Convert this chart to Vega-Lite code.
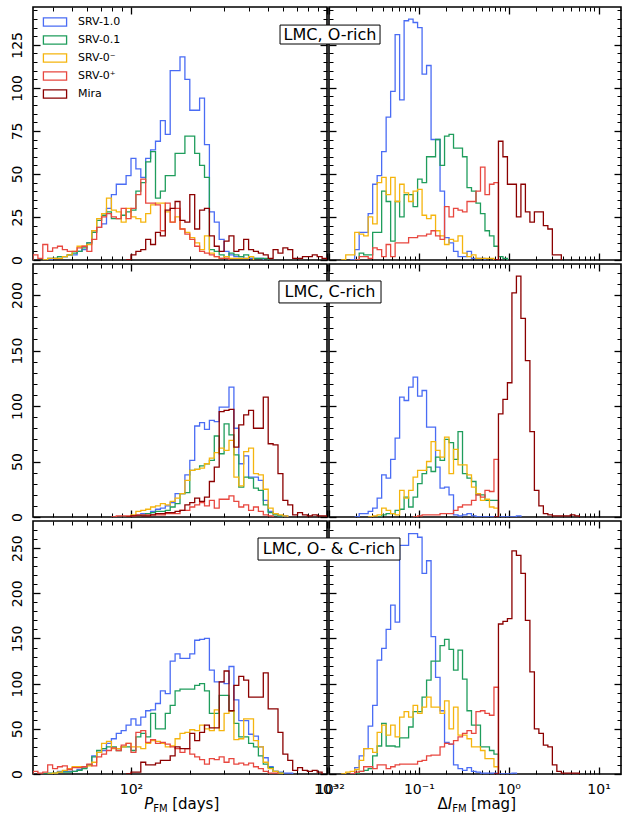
{
"$schema":"https://vega.github.io/schema/vega-lite/v6.json",
"padding":{"left":9,"top":5,"right":0,"bottom":0},
"background":"white",
"config":{
"font":"DejaVu Sans",
"view":{"stroke":"black","strokeWidth":1.6},
"axis":{"grid":false,"domain":false,"tickColor":"black","labelColor":"black","labelFont":"DejaVu Sans","labelFontSize":14,"labelFlush":false,"labelOverlap":false},
"legend":{"orient":"top-left","offset":7,"padding":0,"labelFont":"DejaVu Sans","labelFontSize":11,"labelColor":"black","symbolType":"M-1.6,-0.57H1.6V0.57H-1.6Z","symbolSize":210,"symbolStrokeWidth":1.4,"symbolFillColor":"transparent","symbolOffset":7,"labelOffset":15,"rowPadding":3,"labelLimit":200},
"line":{"strokeWidth":1.3}
},
"resolve":{"legend":{"color":"independent"}},
"columns":2,
"spacing":{"row":4,"column":2},
"bounds":"flush",
"concat":[
{"width":294,"height":253,"resolve":{"axis":{"x":"independent","y":"independent"}},"layer":[
{"data":{"name":"tl1"},"mark":{"type":"line","interpolate":"step-after","clip":true},"encoding":{
"x":{"field":"lg","type":"quantitative","scale":{"domain":[1.5,3],"nice":false,"zero":false},"axis":{"orient":"bottom","values":[2,3],"labels":false,"tickSize":-7,"tickWidth":1.3,"title":null}},
"y":{"field":"n","type":"quantitative","scale":{"domain":[0,147],"nice":false},"axis":{"orient":"left","values":[0,25,50,75,100,125],"labelAngle":-90,"labelAlign":"center","labelBaseline":"bottom","tickSize":-7,"tickWidth":1.3,"labelPadding":15.5,"title":null}},
"color":{"datum":"SRV-1.0","scale":{"domain":["SRV-1.0","SRV-0.1","SRV-0⁻","SRV-0⁺","Mira"],"range":["#4a6cf4","#1f9d5c","#f5b50e","#e8473f","#8b0000"]},"legend":{"title":null,"orient":"top-left","offset":7,"padding":0,"symbolType":"M-1.6,-0.57H1.6V0.57H-1.6Z","symbolSize":210,"symbolStrokeWidth":1.4,"symbolFillColor":"transparent","symbolOffset":7,"labelFontSize":11,"labelOffset":15,"rowPadding":3}}}},
{"data":{"name":"tl2"},"mark":{"type":"line","interpolate":"step-after","clip":true},"encoding":{
"x":{"field":"lg","type":"quantitative","scale":{"domain":[1.5,3],"nice":false,"zero":false},"axis":{"orient":"bottom","values":[1.602,1.699,1.778,1.845,1.903,1.954,2.301,2.477,2.602,2.699,2.778,2.845,2.903,2.954],"labels":false,"tickSize":-4,"tickWidth":1,"title":null}},
"y":{"field":"n","type":"quantitative","scale":{"domain":[0,147],"nice":false},"axis":{"orient":"left","values":[5,10,15,20,30,35,40,45,55,60,65,70,80,85,90,95,105,110,115,120,130,135,140,145],"labels":false,"tickSize":-4,"tickWidth":1,"title":null}},
"color":{"datum":"SRV-0.1","legend":{"title":null}}}},
{"data":{"name":"tl3"},"mark":{"type":"line","interpolate":"step-after","clip":true},"encoding":{
"x":{"field":"lg","type":"quantitative","scale":{"domain":[1.5,3],"nice":false,"zero":false},"axis":{"orient":"top","values":[2,3],"labels":false,"tickSize":-7,"tickWidth":1.3,"title":null}},
"y":{"field":"n","type":"quantitative","scale":{"domain":[0,147],"nice":false},"axis":{"orient":"right","values":[0,25,50,75,100,125],"labels":false,"tickSize":-7,"tickWidth":1.3,"title":null}},
"color":{"datum":"SRV-0⁻","legend":{"title":null}}}},
{"data":{"name":"tl4"},"mark":{"type":"line","interpolate":"step-after","clip":true},"encoding":{
"x":{"field":"lg","type":"quantitative","scale":{"domain":[1.5,3],"nice":false,"zero":false},"axis":{"orient":"top","values":[1.602,1.699,1.778,1.845,1.903,1.954,2.301,2.477,2.602,2.699,2.778,2.845,2.903,2.954],"labels":false,"tickSize":-4,"tickWidth":1,"title":null}},
"y":{"field":"n","type":"quantitative","scale":{"domain":[0,147],"nice":false},"axis":{"orient":"right","values":[5,10,15,20,30,35,40,45,55,60,65,70,80,85,90,95,105,110,115,120,130,135,140,145],"labels":false,"tickSize":-4,"tickWidth":1,"title":null}},
"color":{"datum":"SRV-0⁺","legend":{"title":null}}}},
{"data":{"name":"tl5"},"mark":{"type":"line","interpolate":"step-after","clip":true},"encoding":{
"x":{"field":"lg","type":"quantitative","scale":{"domain":[1.5,3],"nice":false,"zero":false},"axis":null},
"y":{"field":"n","type":"quantitative","scale":{"domain":[0,147],"nice":false},"axis":null},
"color":{"datum":"Mira","legend":{"title":null}}}}
]},
{"width":292,"height":253,"resolve":{"axis":{"x":"independent","y":"independent"}},"layer":[
{"data":{"name":"tr1"},"mark":{"type":"line","interpolate":"step-after","clip":true},"encoding":{
"x":{"field":"lg","type":"quantitative","scale":{"domain":[-2,1.25],"nice":false,"zero":false},"axis":{"orient":"bottom","values":[-2,-1,0,1],"labels":false,"tickSize":-7,"tickWidth":1.3,"title":null}},
"y":{"field":"n","type":"quantitative","scale":{"domain":[0,147],"nice":false},"axis":{"orient":"left","values":[0,25,50,75,100,125],"labels":false,"tickSize":-7,"tickWidth":1.3,"title":null}},
"color":{"datum":"SRV-1.0","legend":null}}},
{"data":{"name":"tr2"},"mark":{"type":"line","interpolate":"step-after","clip":true},"encoding":{
"x":{"field":"lg","type":"quantitative","scale":{"domain":[-2,1.25],"nice":false,"zero":false},"axis":{"orient":"bottom","values":[-1.699,-1.523,-1.398,-1.301,-1.222,-1.155,-1.097,-1.046,-0.699,-0.523,-0.398,-0.301,-0.222,-0.155,-0.097,-0.046,0.301,0.477,0.602,0.699,0.778,0.845,0.903,0.954],"labels":false,"tickSize":-4,"tickWidth":1,"title":null}},
"y":{"field":"n","type":"quantitative","scale":{"domain":[0,147],"nice":false},"axis":{"orient":"left","values":[5,10,15,20,30,35,40,45,55,60,65,70,80,85,90,95,105,110,115,120,130,135,140,145],"labels":false,"tickSize":-4,"tickWidth":1,"title":null}},
"color":{"datum":"SRV-0.1","legend":null}}},
{"data":{"name":"tr3"},"mark":{"type":"line","interpolate":"step-after","clip":true},"encoding":{
"x":{"field":"lg","type":"quantitative","scale":{"domain":[-2,1.25],"nice":false,"zero":false},"axis":{"orient":"top","values":[-2,-1,0,1],"labels":false,"tickSize":-7,"tickWidth":1.3,"title":null}},
"y":{"field":"n","type":"quantitative","scale":{"domain":[0,147],"nice":false},"axis":{"orient":"right","values":[0,25,50,75,100,125],"labels":false,"tickSize":-7,"tickWidth":1.3,"title":null}},
"color":{"datum":"SRV-0⁻","legend":null}}},
{"data":{"name":"tr4"},"mark":{"type":"line","interpolate":"step-after","clip":true},"encoding":{
"x":{"field":"lg","type":"quantitative","scale":{"domain":[-2,1.25],"nice":false,"zero":false},"axis":{"orient":"top","values":[-1.699,-1.523,-1.398,-1.301,-1.222,-1.155,-1.097,-1.046,-0.699,-0.523,-0.398,-0.301,-0.222,-0.155,-0.097,-0.046,0.301,0.477,0.602,0.699,0.778,0.845,0.903,0.954],"labels":false,"tickSize":-4,"tickWidth":1,"title":null}},
"y":{"field":"n","type":"quantitative","scale":{"domain":[0,147],"nice":false},"axis":{"orient":"right","values":[5,10,15,20,30,35,40,45,55,60,65,70,80,85,90,95,105,110,115,120,130,135,140,145],"labels":false,"tickSize":-4,"tickWidth":1,"title":null}},
"color":{"datum":"SRV-0⁺","legend":null}}},
{"data":{"name":"tr5"},"mark":{"type":"line","interpolate":"step-after","clip":true},"encoding":{
"x":{"field":"lg","type":"quantitative","scale":{"domain":[-2,1.25],"nice":false,"zero":false},"axis":null},
"y":{"field":"n","type":"quantitative","scale":{"domain":[0,147],"nice":false},"axis":null},
"color":{"datum":"Mira","legend":null}}},
{"data":{"values":[{}]},"mark":{"type":"rect","fill":"white","stroke":"black","strokeWidth":1},"encoding":{
"x":{"datum":-2.545,"type":"quantitative","axis":null},"x2":{"datum":-1.432},
"y":{"datum":136.5,"type":"quantitative","axis":null},"y2":{"datum":125.5}}},
{"data":{"values":[{}]},"mark":{"type":"text","text":"LMC, O-rich","fontSize":16,"align":"center","baseline":"middle","color":"black"},"encoding":{
"x":{"datum":-1.989,"type":"quantitative","axis":null},
"y":{"datum":131,"type":"quantitative","axis":null}}}
]},
{"width":294,"height":253,"resolve":{"axis":{"x":"independent","y":"independent"}},"layer":[
{"data":{"name":"ml1"},"mark":{"type":"line","interpolate":"step-after","clip":true},"encoding":{
"x":{"field":"lg","type":"quantitative","scale":{"domain":[1.5,3],"nice":false,"zero":false},"axis":{"orient":"bottom","values":[2,3],"labels":false,"tickSize":-7,"tickWidth":1.3,"title":null}},
"y":{"field":"n","type":"quantitative","scale":{"domain":[0,228],"nice":false},"axis":{"orient":"left","values":[0,50,100,150,200],"labelAngle":-90,"labelAlign":"center","labelBaseline":"bottom","tickSize":-7,"tickWidth":1.3,"labelPadding":15.5,"title":null}},
"color":{"datum":"SRV-1.0","legend":null}}},
{"data":{"name":"ml2"},"mark":{"type":"line","interpolate":"step-after","clip":true},"encoding":{
"x":{"field":"lg","type":"quantitative","scale":{"domain":[1.5,3],"nice":false,"zero":false},"axis":{"orient":"bottom","values":[1.602,1.699,1.778,1.845,1.903,1.954,2.301,2.477,2.602,2.699,2.778,2.845,2.903,2.954],"labels":false,"tickSize":-4,"tickWidth":1,"title":null}},
"y":{"field":"n","type":"quantitative","scale":{"domain":[0,228],"nice":false},"axis":{"orient":"left","values":[10,20,30,40,60,70,80,90,110,120,130,140,160,170,180,190,210,220],"labels":false,"tickSize":-4,"tickWidth":1,"title":null}},
"color":{"datum":"SRV-0.1","legend":null}}},
{"data":{"name":"ml3"},"mark":{"type":"line","interpolate":"step-after","clip":true},"encoding":{
"x":{"field":"lg","type":"quantitative","scale":{"domain":[1.5,3],"nice":false,"zero":false},"axis":{"orient":"top","values":[2,3],"labels":false,"tickSize":-7,"tickWidth":1.3,"title":null}},
"y":{"field":"n","type":"quantitative","scale":{"domain":[0,228],"nice":false},"axis":{"orient":"right","values":[0,50,100,150,200],"labels":false,"tickSize":-7,"tickWidth":1.3,"title":null}},
"color":{"datum":"SRV-0⁻","legend":null}}},
{"data":{"name":"ml4"},"mark":{"type":"line","interpolate":"step-after","clip":true},"encoding":{
"x":{"field":"lg","type":"quantitative","scale":{"domain":[1.5,3],"nice":false,"zero":false},"axis":{"orient":"top","values":[1.602,1.699,1.778,1.845,1.903,1.954,2.301,2.477,2.602,2.699,2.778,2.845,2.903,2.954],"labels":false,"tickSize":-4,"tickWidth":1,"title":null}},
"y":{"field":"n","type":"quantitative","scale":{"domain":[0,228],"nice":false},"axis":{"orient":"right","values":[10,20,30,40,60,70,80,90,110,120,130,140,160,170,180,190,210,220],"labels":false,"tickSize":-4,"tickWidth":1,"title":null}},
"color":{"datum":"SRV-0⁺","legend":null}}},
{"data":{"name":"ml5"},"mark":{"type":"line","interpolate":"step-after","clip":true},"encoding":{
"x":{"field":"lg","type":"quantitative","scale":{"domain":[1.5,3],"nice":false,"zero":false},"axis":null},
"y":{"field":"n","type":"quantitative","scale":{"domain":[0,228],"nice":false},"axis":null},
"color":{"datum":"Mira","legend":null}}}
]},
{"width":292,"height":253,"resolve":{"axis":{"x":"independent","y":"independent"}},"layer":[
{"data":{"name":"mr1"},"mark":{"type":"line","interpolate":"step-after","clip":true},"encoding":{
"x":{"field":"lg","type":"quantitative","scale":{"domain":[-2,1.25],"nice":false,"zero":false},"axis":{"orient":"bottom","values":[-2,-1,0,1],"labels":false,"tickSize":-7,"tickWidth":1.3,"title":null}},
"y":{"field":"n","type":"quantitative","scale":{"domain":[0,228],"nice":false},"axis":{"orient":"left","values":[0,50,100,150,200],"labels":false,"tickSize":-7,"tickWidth":1.3,"title":null}},
"color":{"datum":"SRV-1.0","legend":null}}},
{"data":{"name":"mr2"},"mark":{"type":"line","interpolate":"step-after","clip":true},"encoding":{
"x":{"field":"lg","type":"quantitative","scale":{"domain":[-2,1.25],"nice":false,"zero":false},"axis":{"orient":"bottom","values":[-1.699,-1.523,-1.398,-1.301,-1.222,-1.155,-1.097,-1.046,-0.699,-0.523,-0.398,-0.301,-0.222,-0.155,-0.097,-0.046,0.301,0.477,0.602,0.699,0.778,0.845,0.903,0.954],"labels":false,"tickSize":-4,"tickWidth":1,"title":null}},
"y":{"field":"n","type":"quantitative","scale":{"domain":[0,228],"nice":false},"axis":{"orient":"left","values":[10,20,30,40,60,70,80,90,110,120,130,140,160,170,180,190,210,220],"labels":false,"tickSize":-4,"tickWidth":1,"title":null}},
"color":{"datum":"SRV-0.1","legend":null}}},
{"data":{"name":"mr3"},"mark":{"type":"line","interpolate":"step-after","clip":true},"encoding":{
"x":{"field":"lg","type":"quantitative","scale":{"domain":[-2,1.25],"nice":false,"zero":false},"axis":{"orient":"top","values":[-2,-1,0,1],"labels":false,"tickSize":-7,"tickWidth":1.3,"title":null}},
"y":{"field":"n","type":"quantitative","scale":{"domain":[0,228],"nice":false},"axis":{"orient":"right","values":[0,50,100,150,200],"labels":false,"tickSize":-7,"tickWidth":1.3,"title":null}},
"color":{"datum":"SRV-0⁻","legend":null}}},
{"data":{"name":"mr4"},"mark":{"type":"line","interpolate":"step-after","clip":true},"encoding":{
"x":{"field":"lg","type":"quantitative","scale":{"domain":[-2,1.25],"nice":false,"zero":false},"axis":{"orient":"top","values":[-1.699,-1.523,-1.398,-1.301,-1.222,-1.155,-1.097,-1.046,-0.699,-0.523,-0.398,-0.301,-0.222,-0.155,-0.097,-0.046,0.301,0.477,0.602,0.699,0.778,0.845,0.903,0.954],"labels":false,"tickSize":-4,"tickWidth":1,"title":null}},
"y":{"field":"n","type":"quantitative","scale":{"domain":[0,228],"nice":false},"axis":{"orient":"right","values":[10,20,30,40,60,70,80,90,110,120,130,140,160,170,180,190,210,220],"labels":false,"tickSize":-4,"tickWidth":1,"title":null}},
"color":{"datum":"SRV-0⁺","legend":null}}},
{"data":{"name":"mr5"},"mark":{"type":"line","interpolate":"step-after","clip":true},"encoding":{
"x":{"field":"lg","type":"quantitative","scale":{"domain":[-2,1.25],"nice":false,"zero":false},"axis":null},
"y":{"field":"n","type":"quantitative","scale":{"domain":[0,228],"nice":false},"axis":null},
"color":{"datum":"Mira","legend":null}}},
{"data":{"values":[{}]},"mark":{"type":"rect","fill":"white","stroke":"black","strokeWidth":1},"encoding":{
"x":{"datum":-2.557,"type":"quantitative","axis":null},"x2":{"datum":-1.421},
"y":{"datum":212.7,"type":"quantitative","axis":null},"y2":{"datum":192.9}}},
{"data":{"values":[{}]},"mark":{"type":"text","text":"LMC, C-rich","fontSize":16,"align":"center","baseline":"middle","color":"black"},"encoding":{
"x":{"datum":-1.989,"type":"quantitative","axis":null},
"y":{"datum":202.8,"type":"quantitative","axis":null}}}
]},
{"width":294,"height":253,"resolve":{"axis":{"x":"independent","y":"independent"}},"layer":[
{"data":{"name":"bl1"},"mark":{"type":"line","interpolate":"step-after","clip":true},"encoding":{
"x":{"field":"lg","type":"quantitative","scale":{"domain":[1.5,3],"nice":false,"zero":false},"axis":{"orient":"bottom","values":[2,3],"labelExpr":"datum.value==2?'10²':'10³'","tickSize":-7,"tickWidth":1.3,"labelPadding":15,"title":null}},
"y":{"field":"n","type":"quantitative","scale":{"domain":[0,280],"nice":false},"axis":{"orient":"left","values":[0,50,100,150,200,250],"labelAngle":-90,"labelAlign":"center","labelBaseline":"bottom","tickSize":-7,"tickWidth":1.3,"labelPadding":15.5,"title":null}},
"color":{"datum":"SRV-1.0","legend":null}}},
{"data":{"name":"bl2"},"mark":{"type":"line","interpolate":"step-after","clip":true},"encoding":{
"x":{"field":"lg","type":"quantitative","scale":{"domain":[1.5,3],"nice":false,"zero":false},"axis":{"orient":"bottom","values":[1.602,1.699,1.778,1.845,1.903,1.954,2.301,2.477,2.602,2.699,2.778,2.845,2.903,2.954],"labels":false,"tickSize":-4,"tickWidth":1,"title":null}},
"y":{"field":"n","type":"quantitative","scale":{"domain":[0,280],"nice":false},"axis":{"orient":"left","values":[10,20,30,40,60,70,80,90,110,120,130,140,160,170,180,190,210,220,230,240,260,270],"labels":false,"tickSize":-4,"tickWidth":1,"title":null}},
"color":{"datum":"SRV-0.1","legend":null}}},
{"data":{"name":"bl3"},"mark":{"type":"line","interpolate":"step-after","clip":true},"encoding":{
"x":{"field":"lg","type":"quantitative","scale":{"domain":[1.5,3],"nice":false,"zero":false},"axis":{"orient":"top","values":[2,3],"labels":false,"tickSize":-7,"tickWidth":1.3,"title":null}},
"y":{"field":"n","type":"quantitative","scale":{"domain":[0,280],"nice":false},"axis":{"orient":"right","values":[0,50,100,150,200,250],"labels":false,"tickSize":-7,"tickWidth":1.3,"title":null}},
"color":{"datum":"SRV-0⁻","legend":null}}},
{"data":{"name":"bl4"},"mark":{"type":"line","interpolate":"step-after","clip":true},"encoding":{
"x":{"field":"lg","type":"quantitative","scale":{"domain":[1.5,3],"nice":false,"zero":false},"axis":{"orient":"top","values":[1.602,1.699,1.778,1.845,1.903,1.954,2.301,2.477,2.602,2.699,2.778,2.845,2.903,2.954],"labels":false,"tickSize":-4,"tickWidth":1,"title":null}},
"y":{"field":"n","type":"quantitative","scale":{"domain":[0,280],"nice":false},"axis":{"orient":"right","values":[10,20,30,40,60,70,80,90,110,120,130,140,160,170,180,190,210,220,230,240,260,270],"labels":false,"tickSize":-4,"tickWidth":1,"title":null}},
"color":{"datum":"SRV-0⁺","legend":null}}},
{"data":{"name":"bl5"},"mark":{"type":"line","interpolate":"step-after","clip":true},"encoding":{
"x":{"field":"lg","type":"quantitative","scale":{"domain":[1.5,3],"nice":false,"zero":false},"axis":null},
"y":{"field":"n","type":"quantitative","scale":{"domain":[0,280],"nice":false},"axis":null},
"color":{"datum":"Mira","legend":null}}},
{"data":{"values":[{}]},"mark":{"type":"text","text":"P","fontSize":15,"fontStyle":"italic","align":"left","baseline":"alphabetic","color":"black"},"encoding":{
"x":{"datum":2.0676,"type":"quantitative","axis":null},"y":{"datum":-39,"type":"quantitative","axis":null}}},
{"data":{"values":[{}]},"mark":{"type":"text","text":"FM","fontSize":10,"align":"left","baseline":"alphabetic","color":"black"},"encoding":{
"x":{"datum":2.1135,"type":"quantitative","axis":null},"y":{"datum":-41.7,"type":"quantitative","axis":null}}},
{"data":{"values":[{}]},"mark":{"type":"text","text":"[days]","fontSize":15,"align":"left","baseline":"alphabetic","color":"black"},"encoding":{
"x":{"datum":2.21,"type":"quantitative","axis":null},"y":{"datum":-39,"type":"quantitative","axis":null}}}
]},
{"width":292,"height":253,"resolve":{"axis":{"x":"independent","y":"independent"}},"layer":[
{"data":{"name":"br1"},"mark":{"type":"line","interpolate":"step-after","clip":true},"encoding":{
"x":{"field":"lg","type":"quantitative","scale":{"domain":[-2,1.25],"nice":false,"zero":false},"axis":{"orient":"bottom","values":[-2,-1,0,1],"labelExpr":"datum.value==-2?'10⁻²':datum.value==-1?'10⁻¹':datum.value==0?'10⁰':'10¹'","tickSize":-7,"tickWidth":1.3,"labelPadding":15,"title":null}},
"y":{"field":"n","type":"quantitative","scale":{"domain":[0,280],"nice":false},"axis":{"orient":"left","values":[0,50,100,150,200,250],"labels":false,"tickSize":-7,"tickWidth":1.3,"title":null}},
"color":{"datum":"SRV-1.0","legend":null}}},
{"data":{"name":"br2"},"mark":{"type":"line","interpolate":"step-after","clip":true},"encoding":{
"x":{"field":"lg","type":"quantitative","scale":{"domain":[-2,1.25],"nice":false,"zero":false},"axis":{"orient":"bottom","values":[-1.699,-1.523,-1.398,-1.301,-1.222,-1.155,-1.097,-1.046,-0.699,-0.523,-0.398,-0.301,-0.222,-0.155,-0.097,-0.046,0.301,0.477,0.602,0.699,0.778,0.845,0.903,0.954],"labels":false,"tickSize":-4,"tickWidth":1,"title":null}},
"y":{"field":"n","type":"quantitative","scale":{"domain":[0,280],"nice":false},"axis":{"orient":"left","values":[10,20,30,40,60,70,80,90,110,120,130,140,160,170,180,190,210,220,230,240,260,270],"labels":false,"tickSize":-4,"tickWidth":1,"title":null}},
"color":{"datum":"SRV-0.1","legend":null}}},
{"data":{"name":"br3"},"mark":{"type":"line","interpolate":"step-after","clip":true},"encoding":{
"x":{"field":"lg","type":"quantitative","scale":{"domain":[-2,1.25],"nice":false,"zero":false},"axis":{"orient":"top","values":[-2,-1,0,1],"labels":false,"tickSize":-7,"tickWidth":1.3,"title":null}},
"y":{"field":"n","type":"quantitative","scale":{"domain":[0,280],"nice":false},"axis":{"orient":"right","values":[0,50,100,150,200,250],"labels":false,"tickSize":-7,"tickWidth":1.3,"title":null}},
"color":{"datum":"SRV-0⁻","legend":null}}},
{"data":{"name":"br4"},"mark":{"type":"line","interpolate":"step-after","clip":true},"encoding":{
"x":{"field":"lg","type":"quantitative","scale":{"domain":[-2,1.25],"nice":false,"zero":false},"axis":{"orient":"top","values":[-1.699,-1.523,-1.398,-1.301,-1.222,-1.155,-1.097,-1.046,-0.699,-0.523,-0.398,-0.301,-0.222,-0.155,-0.097,-0.046,0.301,0.477,0.602,0.699,0.778,0.845,0.903,0.954],"labels":false,"tickSize":-4,"tickWidth":1,"title":null}},
"y":{"field":"n","type":"quantitative","scale":{"domain":[0,280],"nice":false},"axis":{"orient":"right","values":[10,20,30,40,60,70,80,90,110,120,130,140,160,170,180,190,210,220,230,240,260,270],"labels":false,"tickSize":-4,"tickWidth":1,"title":null}},
"color":{"datum":"SRV-0⁺","legend":null}}},
{"data":{"name":"br5"},"mark":{"type":"line","interpolate":"step-after","clip":true},"encoding":{
"x":{"field":"lg","type":"quantitative","scale":{"domain":[-2,1.25],"nice":false,"zero":false},"axis":null},
"y":{"field":"n","type":"quantitative","scale":{"domain":[0,280],"nice":false},"axis":null},
"color":{"datum":"Mira","legend":null}}},
{"data":{"values":[{}]},"mark":{"type":"rect","fill":"white","stroke":"black","strokeWidth":1},"encoding":{
"x":{"datum":-2.79,"type":"quantitative","axis":null},"x2":{"datum":-1.21},
"y":{"datum":261.2,"type":"quantitative","axis":null},"y2":{"datum":236.8}}},
{"data":{"values":[{}]},"mark":{"type":"text","text":"LMC, O- & C-rich","fontSize":16,"align":"center","baseline":"middle","color":"black"},"encoding":{
"x":{"datum":-2.0,"type":"quantitative","axis":null},
"y":{"datum":248.9,"type":"quantitative","axis":null}}},
{"data":{"values":[{}]},"mark":{"type":"text","text":"Δ","fontSize":15,"align":"left","baseline":"alphabetic","color":"black"},"encoding":{
"x":{"datum":-0.792,"type":"quantitative","axis":null},"y":{"datum":-39,"type":"quantitative","axis":null}}},
{"data":{"values":[{}]},"mark":{"type":"text","text":"I","fontSize":15,"fontStyle":"italic","align":"left","baseline":"alphabetic","color":"black"},"encoding":{
"x":{"datum":-0.678,"type":"quantitative","axis":null},"y":{"datum":-39,"type":"quantitative","axis":null}}},
{"data":{"values":[{}]},"mark":{"type":"text","text":"FM","fontSize":10,"align":"left","baseline":"alphabetic","color":"black"},"encoding":{
"x":{"datum":-0.629,"type":"quantitative","axis":null},"y":{"datum":-41.7,"type":"quantitative","axis":null}}},
{"data":{"values":[{}]},"mark":{"type":"text","text":"[mag]","fontSize":15,"align":"left","baseline":"alphabetic","color":"black"},"encoding":{
"x":{"datum":-0.42,"type":"quantitative","axis":null},"y":{"datum":-39,"type":"quantitative","axis":null}}}
]}
],
"datasets":{
"tl1":[{"lg":1.575,"n":0},{"lg":1.6,"n":1},{"lg":1.625,"n":1},{"lg":1.65,"n":2},{"lg":1.675,"n":3},{"lg":1.7,"n":3},{"lg":1.725,"n":5},{"lg":1.75,"n":6},{"lg":1.775,"n":10},{"lg":1.8,"n":17},{"lg":1.825,"n":19},{"lg":1.85,"n":21},{"lg":1.875,"n":30},{"lg":1.9,"n":38},{"lg":1.925,"n":44},{"lg":1.95,"n":44},{"lg":1.975,"n":49},{"lg":2,"n":59},{"lg":2.025,"n":53},{"lg":2.05,"n":48},{"lg":2.075,"n":59},{"lg":2.1,"n":64},{"lg":2.125,"n":69},{"lg":2.15,"n":81},{"lg":2.175,"n":73},{"lg":2.2,"n":110},{"lg":2.225,"n":110},{"lg":2.25,"n":118},{"lg":2.275,"n":105},{"lg":2.3,"n":87},{"lg":2.325,"n":87},{"lg":2.35,"n":94},{"lg":2.375,"n":67},{"lg":2.4,"n":28},{"lg":2.425,"n":22},{"lg":2.45,"n":12},{"lg":2.475,"n":5},{"lg":2.5,"n":3},{"lg":2.525,"n":2},{"lg":2.55,"n":2},{"lg":2.575,"n":1},{"lg":2.6,"n":1},{"lg":2.625,"n":1},{"lg":2.65,"n":1},{"lg":2.675,"n":0}],
"tl2":[{"lg":1.55,"n":0},{"lg":1.575,"n":1},{"lg":1.6,"n":1},{"lg":1.625,"n":2},{"lg":1.65,"n":2},{"lg":1.675,"n":3},{"lg":1.7,"n":4},{"lg":1.725,"n":5},{"lg":1.75,"n":7},{"lg":1.775,"n":10},{"lg":1.8,"n":16},{"lg":1.825,"n":23},{"lg":1.85,"n":26},{"lg":1.875,"n":28},{"lg":1.9,"n":24},{"lg":1.925,"n":24},{"lg":1.95,"n":26},{"lg":1.975,"n":28},{"lg":2,"n":29},{"lg":2.025,"n":40},{"lg":2.05,"n":45},{"lg":2.075,"n":57},{"lg":2.1,"n":63},{"lg":2.125,"n":36},{"lg":2.15,"n":40},{"lg":2.175,"n":49},{"lg":2.2,"n":49},{"lg":2.225,"n":62},{"lg":2.25,"n":62},{"lg":2.275,"n":72},{"lg":2.3,"n":72},{"lg":2.325,"n":62},{"lg":2.35,"n":55},{"lg":2.375,"n":48},{"lg":2.4,"n":6},{"lg":2.425,"n":5},{"lg":2.45,"n":3},{"lg":2.475,"n":2},{"lg":2.5,"n":4},{"lg":2.525,"n":3},{"lg":2.55,"n":2},{"lg":2.575,"n":3},{"lg":2.6,"n":2},{"lg":2.625,"n":1},{"lg":2.65,"n":1},{"lg":2.675,"n":1},{"lg":2.7,"n":0}],
"tl3":[{"lg":1.55,"n":0},{"lg":1.575,"n":1},{"lg":1.6,"n":1},{"lg":1.625,"n":1},{"lg":1.65,"n":2},{"lg":1.675,"n":3},{"lg":1.7,"n":5},{"lg":1.725,"n":8},{"lg":1.75,"n":8},{"lg":1.775,"n":9},{"lg":1.8,"n":17},{"lg":1.825,"n":24},{"lg":1.85,"n":27},{"lg":1.875,"n":36},{"lg":1.9,"n":29},{"lg":1.925,"n":28},{"lg":1.95,"n":22},{"lg":1.975,"n":30},{"lg":2,"n":25},{"lg":2.025,"n":24},{"lg":2.05,"n":22},{"lg":2.075,"n":27},{"lg":2.1,"n":32},{"lg":2.125,"n":33},{"lg":2.15,"n":33},{"lg":2.175,"n":28},{"lg":2.2,"n":22},{"lg":2.225,"n":25},{"lg":2.25,"n":18},{"lg":2.275,"n":16},{"lg":2.3,"n":13},{"lg":2.325,"n":10},{"lg":2.35,"n":6},{"lg":2.375,"n":14},{"lg":2.4,"n":4},{"lg":2.425,"n":2},{"lg":2.45,"n":1},{"lg":2.475,"n":2},{"lg":2.5,"n":1},{"lg":2.525,"n":1},{"lg":2.55,"n":1},{"lg":2.575,"n":1},{"lg":2.6,"n":2},{"lg":2.625,"n":0}],
"tl4":[{"lg":1.475,"n":0},{"lg":1.5,"n":3},{"lg":1.525,"n":1},{"lg":1.55,"n":9},{"lg":1.575,"n":5},{"lg":1.6,"n":7},{"lg":1.625,"n":8},{"lg":1.65,"n":6},{"lg":1.675,"n":5},{"lg":1.7,"n":5},{"lg":1.725,"n":7},{"lg":1.75,"n":8},{"lg":1.775,"n":5},{"lg":1.8,"n":12},{"lg":1.825,"n":19},{"lg":1.85,"n":25},{"lg":1.875,"n":27},{"lg":1.9,"n":25},{"lg":1.925,"n":24},{"lg":1.95,"n":30},{"lg":1.975,"n":24},{"lg":2,"n":30},{"lg":2.025,"n":38},{"lg":2.05,"n":47},{"lg":2.075,"n":33},{"lg":2.1,"n":33},{"lg":2.125,"n":32},{"lg":2.15,"n":17},{"lg":2.175,"n":33},{"lg":2.2,"n":22},{"lg":2.225,"n":30},{"lg":2.25,"n":18},{"lg":2.275,"n":15},{"lg":2.3,"n":12},{"lg":2.325,"n":8},{"lg":2.35,"n":5},{"lg":2.375,"n":4},{"lg":2.4,"n":3},{"lg":2.425,"n":2},{"lg":2.45,"n":1},{"lg":2.475,"n":1},{"lg":2.5,"n":0}],
"tl5":[{"lg":1.975,"n":0},{"lg":2,"n":3},{"lg":2.025,"n":5},{"lg":2.05,"n":6},{"lg":2.075,"n":12},{"lg":2.1,"n":9},{"lg":2.125,"n":16},{"lg":2.15,"n":14},{"lg":2.175,"n":29},{"lg":2.2,"n":30},{"lg":2.225,"n":34},{"lg":2.25,"n":23},{"lg":2.275,"n":22},{"lg":2.3,"n":38},{"lg":2.325,"n":18},{"lg":2.35,"n":29},{"lg":2.375,"n":30},{"lg":2.4,"n":14},{"lg":2.425,"n":8},{"lg":2.45,"n":5},{"lg":2.475,"n":11},{"lg":2.5,"n":14},{"lg":2.525,"n":5},{"lg":2.55,"n":6},{"lg":2.575,"n":12},{"lg":2.6,"n":6},{"lg":2.625,"n":5},{"lg":2.65,"n":4},{"lg":2.675,"n":3},{"lg":2.7,"n":1},{"lg":2.725,"n":6},{"lg":2.75,"n":4},{"lg":2.775,"n":7},{"lg":2.8,"n":6},{"lg":2.825,"n":1},{"lg":2.85,"n":1},{"lg":2.875,"n":2},{"lg":2.9,"n":2},{"lg":2.925,"n":3},{"lg":2.95,"n":2},{"lg":2.975,"n":1},{"lg":3,"n":0}],
"tr1":[{"lg":-1.764,"n":0},{"lg":-1.714,"n":6},{"lg":-1.664,"n":16},{"lg":-1.614,"n":16},{"lg":-1.564,"n":27},{"lg":-1.514,"n":44},{"lg":-1.464,"n":49},{"lg":-1.414,"n":63},{"lg":-1.364,"n":83},{"lg":-1.314,"n":98},{"lg":-1.264,"n":131},{"lg":-1.214,"n":93},{"lg":-1.164,"n":139},{"lg":-1.114,"n":140},{"lg":-1.064,"n":138},{"lg":-1.014,"n":135},{"lg":-0.964,"n":108},{"lg":-0.914,"n":113},{"lg":-0.864,"n":70},{"lg":-0.814,"n":70},{"lg":-0.764,"n":40},{"lg":-0.714,"n":13},{"lg":-0.664,"n":10},{"lg":-0.614,"n":5},{"lg":-0.564,"n":2},{"lg":-0.514,"n":2},{"lg":-0.464,"n":5},{"lg":-0.414,"n":1},{"lg":-0.364,"n":1},{"lg":-0.314,"n":1},{"lg":-0.264,"n":0}],
"tr2":[{"lg":-1.714,"n":0},{"lg":-1.664,"n":4},{"lg":-1.614,"n":3},{"lg":-1.564,"n":3},{"lg":-1.514,"n":16},{"lg":-1.464,"n":16},{"lg":-1.414,"n":40},{"lg":-1.364,"n":34},{"lg":-1.314,"n":11},{"lg":-1.264,"n":34},{"lg":-1.214,"n":25},{"lg":-1.164,"n":38},{"lg":-1.114,"n":38},{"lg":-1.064,"n":31},{"lg":-1.014,"n":47},{"lg":-0.964,"n":45},{"lg":-0.914,"n":60},{"lg":-0.864,"n":60},{"lg":-0.814,"n":70},{"lg":-0.764,"n":55},{"lg":-0.714,"n":72},{"lg":-0.664,"n":73},{"lg":-0.614,"n":65},{"lg":-0.564,"n":65},{"lg":-0.514,"n":60},{"lg":-0.464,"n":42},{"lg":-0.414,"n":40},{"lg":-0.364,"n":33},{"lg":-0.314,"n":27},{"lg":-0.264,"n":17},{"lg":-0.214,"n":14},{"lg":-0.164,"n":8},{"lg":-0.114,"n":2},{"lg":-0.064,"n":1},{"lg":-0.014,"n":0}],
"tr3":[{"lg":-1.864,"n":0},{"lg":-1.814,"n":3},{"lg":-1.764,"n":3},{"lg":-1.714,"n":16},{"lg":-1.664,"n":15},{"lg":-1.614,"n":14},{"lg":-1.564,"n":25},{"lg":-1.514,"n":21},{"lg":-1.464,"n":45},{"lg":-1.414,"n":48},{"lg":-1.364,"n":38},{"lg":-1.314,"n":48},{"lg":-1.264,"n":34},{"lg":-1.214,"n":44},{"lg":-1.164,"n":39},{"lg":-1.114,"n":34},{"lg":-1.064,"n":40},{"lg":-1.014,"n":41},{"lg":-0.964,"n":26},{"lg":-0.914,"n":24},{"lg":-0.864,"n":26},{"lg":-0.814,"n":17},{"lg":-0.764,"n":14},{"lg":-0.714,"n":9},{"lg":-0.664,"n":12},{"lg":-0.614,"n":11},{"lg":-0.564,"n":14},{"lg":-0.514,"n":4},{"lg":-0.464,"n":2},{"lg":-0.414,"n":3},{"lg":-0.364,"n":1},{"lg":-0.314,"n":1},{"lg":-0.264,"n":1},{"lg":-0.214,"n":1},{"lg":-0.164,"n":0}],
"tr4":[{"lg":-1.714,"n":0},{"lg":-1.664,"n":2},{"lg":-1.614,"n":2},{"lg":-1.564,"n":1},{"lg":-1.514,"n":7},{"lg":-1.464,"n":6},{"lg":-1.414,"n":2},{"lg":-1.364,"n":9},{"lg":-1.314,"n":2},{"lg":-1.264,"n":10},{"lg":-1.214,"n":10},{"lg":-1.164,"n":10},{"lg":-1.114,"n":13},{"lg":-1.064,"n":13},{"lg":-1.014,"n":14},{"lg":-0.964,"n":14},{"lg":-0.914,"n":15},{"lg":-0.864,"n":17},{"lg":-0.814,"n":14},{"lg":-0.764,"n":12},{"lg":-0.714,"n":31},{"lg":-0.664,"n":25},{"lg":-0.614,"n":30},{"lg":-0.564,"n":29},{"lg":-0.514,"n":28},{"lg":-0.464,"n":34},{"lg":-0.414,"n":34},{"lg":-0.364,"n":40},{"lg":-0.314,"n":54},{"lg":-0.264,"n":38},{"lg":-0.214,"n":44},{"lg":-0.164,"n":45},{"lg":-0.114,"n":0}],
"tr5":[{"lg":-0.164,"n":0},{"lg":-0.114,"n":69},{"lg":-0.064,"n":60},{"lg":-0.014,"n":44},{"lg":0.036,"n":44},{"lg":0.086,"n":25},{"lg":0.136,"n":44},{"lg":0.186,"n":28},{"lg":0.236,"n":22},{"lg":0.286,"n":28},{"lg":0.336,"n":28},{"lg":0.386,"n":20},{"lg":0.436,"n":18},{"lg":0.486,"n":3},{"lg":0.536,"n":3},{"lg":0.586,"n":0}],
"ml1":[{"lg":1.975,"n":0},{"lg":2,"n":1},{"lg":2.025,"n":2},{"lg":2.05,"n":3},{"lg":2.075,"n":3},{"lg":2.1,"n":5},{"lg":2.125,"n":7},{"lg":2.15,"n":8},{"lg":2.175,"n":10},{"lg":2.2,"n":13},{"lg":2.225,"n":21},{"lg":2.25,"n":21},{"lg":2.275,"n":38},{"lg":2.3,"n":51},{"lg":2.325,"n":82},{"lg":2.35,"n":85},{"lg":2.375,"n":79},{"lg":2.4,"n":87},{"lg":2.425,"n":86},{"lg":2.45,"n":99},{"lg":2.475,"n":99},{"lg":2.5,"n":117},{"lg":2.525,"n":80},{"lg":2.55,"n":48},{"lg":2.575,"n":55},{"lg":2.6,"n":36},{"lg":2.625,"n":36},{"lg":2.65,"n":33},{"lg":2.675,"n":15},{"lg":2.7,"n":5},{"lg":2.725,"n":3},{"lg":2.75,"n":1},{"lg":2.775,"n":1},{"lg":2.8,"n":0}],
"ml2":[{"lg":2.025,"n":0},{"lg":2.05,"n":2},{"lg":2.075,"n":3},{"lg":2.1,"n":4},{"lg":2.125,"n":5},{"lg":2.15,"n":5},{"lg":2.175,"n":6},{"lg":2.2,"n":9},{"lg":2.225,"n":12},{"lg":2.25,"n":21},{"lg":2.275,"n":22},{"lg":2.3,"n":42},{"lg":2.325,"n":43},{"lg":2.35,"n":46},{"lg":2.375,"n":48},{"lg":2.4,"n":51},{"lg":2.425,"n":73},{"lg":2.45,"n":57},{"lg":2.475,"n":84},{"lg":2.5,"n":74},{"lg":2.525,"n":56},{"lg":2.55,"n":27},{"lg":2.575,"n":36},{"lg":2.6,"n":35},{"lg":2.625,"n":26},{"lg":2.65,"n":24},{"lg":2.675,"n":11},{"lg":2.7,"n":4},{"lg":2.725,"n":2},{"lg":2.75,"n":1},{"lg":2.775,"n":0}],
"ml3":[{"lg":1.975,"n":0},{"lg":2,"n":2},{"lg":2.025,"n":5},{"lg":2.05,"n":6},{"lg":2.075,"n":7},{"lg":2.1,"n":9},{"lg":2.125,"n":10},{"lg":2.15,"n":12},{"lg":2.175,"n":11},{"lg":2.2,"n":14},{"lg":2.225,"n":17},{"lg":2.25,"n":21},{"lg":2.275,"n":33},{"lg":2.3,"n":42},{"lg":2.325,"n":43},{"lg":2.35,"n":44},{"lg":2.375,"n":48},{"lg":2.4,"n":53},{"lg":2.425,"n":58},{"lg":2.45,"n":62},{"lg":2.475,"n":60},{"lg":2.5,"n":69},{"lg":2.525,"n":36},{"lg":2.55,"n":28},{"lg":2.575,"n":59},{"lg":2.6,"n":62},{"lg":2.625,"n":39},{"lg":2.65,"n":38},{"lg":2.675,"n":25},{"lg":2.7,"n":8},{"lg":2.725,"n":3},{"lg":2.75,"n":2},{"lg":2.775,"n":1},{"lg":2.8,"n":0}],
"ml4":[{"lg":1.9,"n":0},{"lg":1.925,"n":1},{"lg":1.95,"n":1},{"lg":1.975,"n":1},{"lg":2,"n":1},{"lg":2.025,"n":2},{"lg":2.05,"n":2},{"lg":2.075,"n":2},{"lg":2.1,"n":2},{"lg":2.125,"n":2},{"lg":2.15,"n":2},{"lg":2.175,"n":3},{"lg":2.2,"n":3},{"lg":2.225,"n":3},{"lg":2.25,"n":6},{"lg":2.275,"n":6},{"lg":2.3,"n":9},{"lg":2.325,"n":11},{"lg":2.35,"n":13},{"lg":2.375,"n":10},{"lg":2.4,"n":15},{"lg":2.425,"n":8},{"lg":2.45,"n":16},{"lg":2.475,"n":16},{"lg":2.5,"n":19},{"lg":2.525,"n":14},{"lg":2.55,"n":9},{"lg":2.575,"n":11},{"lg":2.6,"n":6},{"lg":2.625,"n":9},{"lg":2.65,"n":5},{"lg":2.675,"n":2},{"lg":2.7,"n":1},{"lg":2.725,"n":0}],
"ml5":[{"lg":1.975,"n":0},{"lg":2,"n":1},{"lg":2.025,"n":1},{"lg":2.05,"n":1},{"lg":2.075,"n":1},{"lg":2.1,"n":2},{"lg":2.125,"n":3},{"lg":2.15,"n":3},{"lg":2.175,"n":4},{"lg":2.2,"n":4},{"lg":2.225,"n":5},{"lg":2.25,"n":6},{"lg":2.275,"n":11},{"lg":2.3,"n":13},{"lg":2.325,"n":17},{"lg":2.35,"n":14},{"lg":2.375,"n":18},{"lg":2.4,"n":32},{"lg":2.425,"n":45},{"lg":2.45,"n":95},{"lg":2.475,"n":96},{"lg":2.5,"n":97},{"lg":2.525,"n":63},{"lg":2.55,"n":83},{"lg":2.575,"n":92},{"lg":2.6,"n":96},{"lg":2.625,"n":80},{"lg":2.65,"n":80},{"lg":2.675,"n":108},{"lg":2.7,"n":66},{"lg":2.725,"n":65},{"lg":2.75,"n":39},{"lg":2.775,"n":15},{"lg":2.8,"n":11},{"lg":2.825,"n":2},{"lg":2.85,"n":4},{"lg":2.875,"n":2},{"lg":2.9,"n":1},{"lg":2.925,"n":2},{"lg":2.95,"n":1},{"lg":2.975,"n":1},{"lg":3,"n":0}],
"mr1":[{"lg":-1.714,"n":0},{"lg":-1.664,"n":3},{"lg":-1.614,"n":3},{"lg":-1.564,"n":5},{"lg":-1.514,"n":8},{"lg":-1.464,"n":17},{"lg":-1.414,"n":38},{"lg":-1.364,"n":35},{"lg":-1.314,"n":52},{"lg":-1.264,"n":71},{"lg":-1.214,"n":108},{"lg":-1.164,"n":105},{"lg":-1.114,"n":117},{"lg":-1.064,"n":126},{"lg":-1.014,"n":109},{"lg":-0.964,"n":114},{"lg":-0.914,"n":81},{"lg":-0.864,"n":81},{"lg":-0.814,"n":45},{"lg":-0.764,"n":26},{"lg":-0.714,"n":27},{"lg":-0.664,"n":20},{"lg":-0.614,"n":2},{"lg":-0.564,"n":1},{"lg":-0.514,"n":2},{"lg":-0.464,"n":3},{"lg":-0.414,"n":1},{"lg":-0.364,"n":0},{"lg":0.086,"n":1},{"lg":0.136,"n":0}],
"mr2":[{"lg":-1.464,"n":0},{"lg":-1.414,"n":2},{"lg":-1.364,"n":3},{"lg":-1.314,"n":3},{"lg":-1.264,"n":6},{"lg":-1.214,"n":7},{"lg":-1.164,"n":18},{"lg":-1.114,"n":9},{"lg":-1.064,"n":18},{"lg":-1.014,"n":30},{"lg":-0.964,"n":39},{"lg":-0.914,"n":45},{"lg":-0.864,"n":41},{"lg":-0.814,"n":54},{"lg":-0.764,"n":51},{"lg":-0.714,"n":70},{"lg":-0.664,"n":67},{"lg":-0.614,"n":52},{"lg":-0.564,"n":77},{"lg":-0.514,"n":39},{"lg":-0.464,"n":35},{"lg":-0.414,"n":32},{"lg":-0.364,"n":20},{"lg":-0.314,"n":20},{"lg":-0.264,"n":15},{"lg":-0.214,"n":15},{"lg":-0.164,"n":15},{"lg":-0.114,"n":0}],
"mr3":[{"lg":-1.564,"n":0},{"lg":-1.514,"n":1},{"lg":-1.464,"n":2},{"lg":-1.414,"n":8},{"lg":-1.364,"n":6},{"lg":-1.314,"n":3},{"lg":-1.264,"n":2},{"lg":-1.214,"n":24},{"lg":-1.164,"n":17},{"lg":-1.114,"n":24},{"lg":-1.064,"n":36},{"lg":-1.014,"n":42},{"lg":-0.964,"n":42},{"lg":-0.914,"n":50},{"lg":-0.864,"n":68},{"lg":-0.814,"n":60},{"lg":-0.764,"n":54},{"lg":-0.714,"n":72},{"lg":-0.664,"n":39},{"lg":-0.614,"n":61},{"lg":-0.564,"n":47},{"lg":-0.514,"n":47},{"lg":-0.464,"n":38},{"lg":-0.414,"n":27},{"lg":-0.364,"n":21},{"lg":-0.314,"n":15},{"lg":-0.264,"n":16},{"lg":-0.214,"n":9},{"lg":-0.164,"n":8},{"lg":-0.114,"n":0}],
"mr4":[{"lg":-1.064,"n":0},{"lg":-1.014,"n":1},{"lg":-0.964,"n":2},{"lg":-0.914,"n":2},{"lg":-0.864,"n":2},{"lg":-0.814,"n":2},{"lg":-0.764,"n":3},{"lg":-0.714,"n":3},{"lg":-0.664,"n":3},{"lg":-0.614,"n":6},{"lg":-0.564,"n":9},{"lg":-0.514,"n":11},{"lg":-0.464,"n":11},{"lg":-0.414,"n":15},{"lg":-0.364,"n":20},{"lg":-0.314,"n":18},{"lg":-0.264,"n":24},{"lg":-0.214,"n":23},{"lg":-0.164,"n":52},{"lg":-0.114,"n":0}],
"mr5":[{"lg":-0.164,"n":0},{"lg":-0.114,"n":93},{"lg":-0.064,"n":106},{"lg":-0.014,"n":121},{"lg":0.036,"n":202},{"lg":0.086,"n":217},{"lg":0.136,"n":179},{"lg":0.186,"n":141},{"lg":0.236,"n":77},{"lg":0.286,"n":24},{"lg":0.336,"n":10},{"lg":0.386,"n":3},{"lg":0.436,"n":2},{"lg":0.486,"n":1},{"lg":0.536,"n":1},{"lg":0.586,"n":1},{"lg":0.636,"n":1},{"lg":0.686,"n":2},{"lg":0.736,"n":1},{"lg":0.786,"n":0}],
"bl1":[{"lg":1.6,"n":0},{"lg":1.625,"n":3},{"lg":1.65,"n":3},{"lg":1.675,"n":3},{"lg":1.7,"n":3},{"lg":1.725,"n":5},{"lg":1.75,"n":7},{"lg":1.775,"n":10},{"lg":1.8,"n":20},{"lg":1.825,"n":24},{"lg":1.85,"n":26},{"lg":1.875,"n":34},{"lg":1.9,"n":39},{"lg":1.925,"n":45},{"lg":1.95,"n":48},{"lg":1.975,"n":54},{"lg":2,"n":61},{"lg":2.025,"n":54},{"lg":2.05,"n":63},{"lg":2.075,"n":70},{"lg":2.1,"n":71},{"lg":2.125,"n":78},{"lg":2.15,"n":92},{"lg":2.175,"n":89},{"lg":2.2,"n":125},{"lg":2.225,"n":133},{"lg":2.25,"n":128},{"lg":2.275,"n":128},{"lg":2.3,"n":133},{"lg":2.325,"n":148},{"lg":2.35,"n":149},{"lg":2.375,"n":150},{"lg":2.4,"n":115},{"lg":2.425,"n":102},{"lg":2.45,"n":102},{"lg":2.475,"n":100},{"lg":2.5,"n":119},{"lg":2.525,"n":82},{"lg":2.55,"n":59},{"lg":2.575,"n":59},{"lg":2.6,"n":44},{"lg":2.625,"n":42},{"lg":2.65,"n":30},{"lg":2.675,"n":18},{"lg":2.7,"n":8},{"lg":2.725,"n":3},{"lg":2.75,"n":2},{"lg":2.775,"n":1},{"lg":2.8,"n":1},{"lg":2.825,"n":0}],
"bl2":[{"lg":1.55,"n":0},{"lg":1.575,"n":1},{"lg":1.6,"n":1},{"lg":1.625,"n":2},{"lg":1.65,"n":2},{"lg":1.675,"n":2},{"lg":1.7,"n":3},{"lg":1.725,"n":4},{"lg":1.75,"n":6},{"lg":1.775,"n":10},{"lg":1.8,"n":19},{"lg":1.825,"n":26},{"lg":1.85,"n":28},{"lg":1.875,"n":30},{"lg":1.9,"n":30},{"lg":1.925,"n":26},{"lg":1.95,"n":30},{"lg":1.975,"n":30},{"lg":2,"n":26},{"lg":2.025,"n":41},{"lg":2.05,"n":45},{"lg":2.075,"n":41},{"lg":2.1,"n":67},{"lg":2.125,"n":50},{"lg":2.15,"n":50},{"lg":2.175,"n":67},{"lg":2.2,"n":76},{"lg":2.225,"n":92},{"lg":2.25,"n":94},{"lg":2.275,"n":94},{"lg":2.3,"n":94},{"lg":2.325,"n":98},{"lg":2.35,"n":100},{"lg":2.375,"n":92},{"lg":2.4,"n":67},{"lg":2.425,"n":67},{"lg":2.45,"n":87},{"lg":2.475,"n":87},{"lg":2.5,"n":70},{"lg":2.525,"n":56},{"lg":2.55,"n":41},{"lg":2.575,"n":41},{"lg":2.6,"n":34},{"lg":2.625,"n":30},{"lg":2.65,"n":20},{"lg":2.675,"n":11},{"lg":2.7,"n":7},{"lg":2.725,"n":3},{"lg":2.75,"n":1},{"lg":2.775,"n":0}],
"bl3":[{"lg":1.575,"n":0},{"lg":1.6,"n":1},{"lg":1.625,"n":2},{"lg":1.65,"n":4},{"lg":1.675,"n":6},{"lg":1.7,"n":8},{"lg":1.725,"n":8},{"lg":1.75,"n":8},{"lg":1.775,"n":9},{"lg":1.8,"n":13},{"lg":1.825,"n":24},{"lg":1.85,"n":34},{"lg":1.875,"n":36},{"lg":1.9,"n":28},{"lg":1.925,"n":28},{"lg":1.95,"n":30},{"lg":1.975,"n":34},{"lg":2,"n":30},{"lg":2.025,"n":30},{"lg":2.05,"n":28},{"lg":2.075,"n":34},{"lg":2.1,"n":37},{"lg":2.125,"n":36},{"lg":2.15,"n":34},{"lg":2.175,"n":30},{"lg":2.2,"n":31},{"lg":2.225,"n":39},{"lg":2.25,"n":45},{"lg":2.275,"n":46},{"lg":2.3,"n":49},{"lg":2.325,"n":48},{"lg":2.35,"n":54},{"lg":2.375,"n":50},{"lg":2.4,"n":48},{"lg":2.425,"n":71},{"lg":2.45,"n":48},{"lg":2.475,"n":67},{"lg":2.5,"n":70},{"lg":2.525,"n":38},{"lg":2.55,"n":39},{"lg":2.575,"n":61},{"lg":2.6,"n":61},{"lg":2.625,"n":37},{"lg":2.65,"n":30},{"lg":2.675,"n":13},{"lg":2.7,"n":6},{"lg":2.725,"n":3},{"lg":2.75,"n":1},{"lg":2.775,"n":0}],
"bl4":[{"lg":1.475,"n":0},{"lg":1.5,"n":3},{"lg":1.525,"n":1},{"lg":1.55,"n":2},{"lg":1.575,"n":10},{"lg":1.6,"n":6},{"lg":1.625,"n":8},{"lg":1.65,"n":9},{"lg":1.675,"n":5},{"lg":1.7,"n":7},{"lg":1.725,"n":7},{"lg":1.75,"n":8},{"lg":1.775,"n":11},{"lg":1.8,"n":9},{"lg":1.825,"n":19},{"lg":1.85,"n":22},{"lg":1.875,"n":26},{"lg":1.9,"n":29},{"lg":1.925,"n":26},{"lg":1.95,"n":32},{"lg":1.975,"n":34},{"lg":2,"n":24},{"lg":2.025,"n":46},{"lg":2.05,"n":48},{"lg":2.075,"n":35},{"lg":2.1,"n":38},{"lg":2.125,"n":34},{"lg":2.15,"n":35},{"lg":2.175,"n":33},{"lg":2.2,"n":30},{"lg":2.225,"n":28},{"lg":2.25,"n":24},{"lg":2.275,"n":28},{"lg":2.3,"n":22},{"lg":2.325,"n":19},{"lg":2.35,"n":16},{"lg":2.375,"n":11},{"lg":2.4,"n":17},{"lg":2.425,"n":16},{"lg":2.45,"n":19},{"lg":2.475,"n":13},{"lg":2.5,"n":17},{"lg":2.525,"n":11},{"lg":2.55,"n":12},{"lg":2.575,"n":10},{"lg":2.6,"n":12},{"lg":2.625,"n":8},{"lg":2.65,"n":6},{"lg":2.675,"n":3},{"lg":2.7,"n":1},{"lg":2.725,"n":1},{"lg":2.75,"n":0}],
"bl5":[{"lg":1.975,"n":0},{"lg":2,"n":2},{"lg":2.025,"n":2},{"lg":2.05,"n":13},{"lg":2.075,"n":10},{"lg":2.1,"n":10},{"lg":2.125,"n":12},{"lg":2.15,"n":15},{"lg":2.175,"n":15},{"lg":2.2,"n":20},{"lg":2.225,"n":30},{"lg":2.25,"n":28},{"lg":2.275,"n":28},{"lg":2.3,"n":45},{"lg":2.325,"n":37},{"lg":2.35,"n":46},{"lg":2.375,"n":54},{"lg":2.4,"n":51},{"lg":2.425,"n":51},{"lg":2.45,"n":102},{"lg":2.475,"n":114},{"lg":2.5,"n":70},{"lg":2.525,"n":98},{"lg":2.55,"n":108},{"lg":2.575,"n":104},{"lg":2.6,"n":85},{"lg":2.625,"n":85},{"lg":2.65,"n":85},{"lg":2.675,"n":112},{"lg":2.7,"n":72},{"lg":2.725,"n":72},{"lg":2.75,"n":46},{"lg":2.775,"n":22},{"lg":2.8,"n":15},{"lg":2.825,"n":4},{"lg":2.85,"n":7},{"lg":2.875,"n":4},{"lg":2.9,"n":3},{"lg":2.925,"n":4},{"lg":2.95,"n":2},{"lg":2.975,"n":0}],
"br1":[{"lg":-1.764,"n":0},{"lg":-1.714,"n":7},{"lg":-1.664,"n":20},{"lg":-1.614,"n":28},{"lg":-1.564,"n":53},{"lg":-1.514,"n":76},{"lg":-1.464,"n":126},{"lg":-1.414,"n":139},{"lg":-1.364,"n":160},{"lg":-1.314,"n":187},{"lg":-1.264,"n":168},{"lg":-1.214,"n":253},{"lg":-1.164,"n":253},{"lg":-1.114,"n":266},{"lg":-1.064,"n":266},{"lg":-1.014,"n":262},{"lg":-0.964,"n":222},{"lg":-0.914,"n":236},{"lg":-0.864,"n":152},{"lg":-0.814,"n":107},{"lg":-0.764,"n":70},{"lg":-0.714,"n":35},{"lg":-0.664,"n":33},{"lg":-0.614,"n":10},{"lg":-0.564,"n":6},{"lg":-0.514,"n":4},{"lg":-0.464,"n":7},{"lg":-0.414,"n":3},{"lg":-0.364,"n":2},{"lg":-0.314,"n":1},{"lg":-0.264,"n":1},{"lg":-0.214,"n":1},{"lg":-0.164,"n":1},{"lg":-0.114,"n":0},{"lg":0.036,"n":1},{"lg":0.086,"n":0}],
"br2":[{"lg":-1.714,"n":0},{"lg":-1.664,"n":3},{"lg":-1.614,"n":4},{"lg":-1.564,"n":6},{"lg":-1.514,"n":20},{"lg":-1.464,"n":31},{"lg":-1.414,"n":56},{"lg":-1.364,"n":31},{"lg":-1.314,"n":31},{"lg":-1.264,"n":30},{"lg":-1.214,"n":40},{"lg":-1.164,"n":40},{"lg":-1.114,"n":52},{"lg":-1.064,"n":69},{"lg":-1.014,"n":69},{"lg":-0.964,"n":85},{"lg":-0.914,"n":104},{"lg":-0.864,"n":125},{"lg":-0.814,"n":125},{"lg":-0.764,"n":142},{"lg":-0.714,"n":149},{"lg":-0.664,"n":138},{"lg":-0.614,"n":115},{"lg":-0.564,"n":137},{"lg":-0.514,"n":105},{"lg":-0.464,"n":70},{"lg":-0.414,"n":54},{"lg":-0.364,"n":54},{"lg":-0.314,"n":30},{"lg":-0.264,"n":30},{"lg":-0.214,"n":26},{"lg":-0.164,"n":22},{"lg":-0.114,"n":0}],
"br3":[{"lg":-1.864,"n":0},{"lg":-1.814,"n":2},{"lg":-1.764,"n":3},{"lg":-1.714,"n":5},{"lg":-1.664,"n":15},{"lg":-1.614,"n":28},{"lg":-1.564,"n":28},{"lg":-1.514,"n":24},{"lg":-1.464,"n":46},{"lg":-1.414,"n":54},{"lg":-1.364,"n":43},{"lg":-1.314,"n":54},{"lg":-1.264,"n":41},{"lg":-1.214,"n":63},{"lg":-1.164,"n":69},{"lg":-1.114,"n":63},{"lg":-1.064,"n":76},{"lg":-1.014,"n":67},{"lg":-0.964,"n":74},{"lg":-0.914,"n":85},{"lg":-0.864,"n":74},{"lg":-0.814,"n":74},{"lg":-0.764,"n":67},{"lg":-0.714,"n":81},{"lg":-0.664,"n":50},{"lg":-0.614,"n":74},{"lg":-0.564,"n":43},{"lg":-0.514,"n":43},{"lg":-0.464,"n":39},{"lg":-0.414,"n":30},{"lg":-0.364,"n":30},{"lg":-0.314,"n":26},{"lg":-0.264,"n":17},{"lg":-0.214,"n":17},{"lg":-0.164,"n":8},{"lg":-0.114,"n":0}],
"br4":[{"lg":-1.764,"n":0},{"lg":-1.714,"n":2},{"lg":-1.664,"n":3},{"lg":-1.614,"n":8},{"lg":-1.564,"n":8},{"lg":-1.514,"n":6},{"lg":-1.464,"n":10},{"lg":-1.414,"n":10},{"lg":-1.364,"n":6},{"lg":-1.314,"n":8},{"lg":-1.264,"n":10},{"lg":-1.214,"n":11},{"lg":-1.164,"n":11},{"lg":-1.114,"n":11},{"lg":-1.064,"n":11},{"lg":-1.014,"n":14},{"lg":-0.964,"n":15},{"lg":-0.914,"n":20},{"lg":-0.864,"n":21},{"lg":-0.814,"n":21},{"lg":-0.764,"n":30},{"lg":-0.714,"n":34},{"lg":-0.664,"n":33},{"lg":-0.614,"n":37},{"lg":-0.564,"n":41},{"lg":-0.514,"n":45},{"lg":-0.464,"n":48},{"lg":-0.414,"n":45},{"lg":-0.364,"n":69},{"lg":-0.314,"n":70},{"lg":-0.264,"n":67},{"lg":-0.214,"n":65},{"lg":-0.164,"n":96},{"lg":-0.114,"n":0}],
"br5":[{"lg":-0.164,"n":0},{"lg":-0.114,"n":166},{"lg":-0.064,"n":169},{"lg":-0.014,"n":172},{"lg":0.036,"n":247},{"lg":0.086,"n":242},{"lg":0.136,"n":222},{"lg":0.186,"n":170},{"lg":0.236,"n":113},{"lg":0.286,"n":50},{"lg":0.336,"n":45},{"lg":0.386,"n":32},{"lg":0.436,"n":30},{"lg":0.486,"n":10},{"lg":0.536,"n":3},{"lg":0.586,"n":1},{"lg":0.636,"n":1},{"lg":0.686,"n":1},{"lg":0.736,"n":1},{"lg":0.786,"n":0}]
}
}
